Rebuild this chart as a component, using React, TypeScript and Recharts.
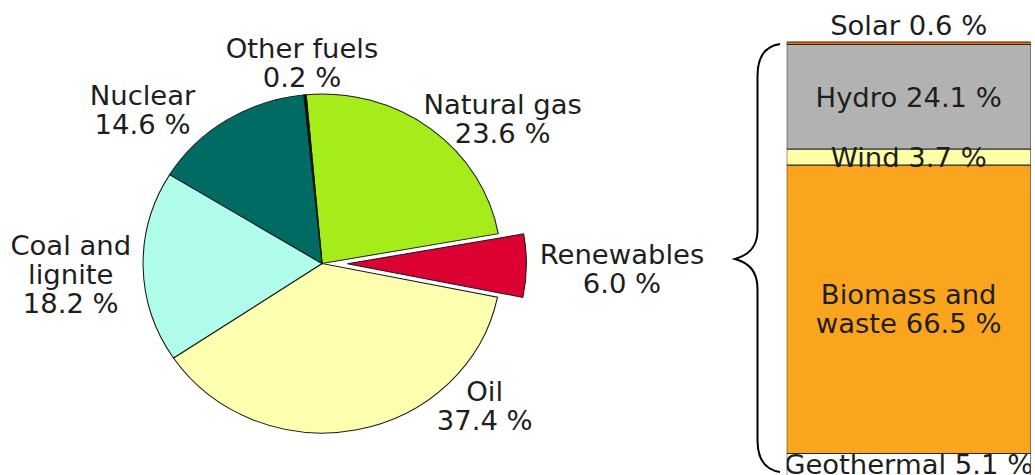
import React from 'react';
import { PieChart, Pie, Cell, BarChart, Bar, XAxis, YAxis, LabelList } from 'recharts';

// primary energy mix (pie), clockwise from the top
const fuels = ['Natural gas', 'Renewables', 'Oil', 'Coal and lignite', 'Nuclear', 'Other fuels'];
const fuelShares = [23.6, 6.0, 37.4, 18.2, 14.6, 0.2];
const fuelColors = ['#a6ec1a', '#dc0033', '#ffffb0', '#b0fdeb', '#006b63', '#000000'];

// renewables breakdown (stacked bar), bottom to top
const renewableParts = ['Geothermal', 'Biomass and waste', 'Wind', 'Hydro', 'Solar'];
const renewableShares = [5.1, 66.5, 3.7, 24.1, 0.6];
const renewableColors = ['#ffffff', '#fba51e', '#ffffa8', '#b2b2b2', '#ff6a00'];

const EXPLODED = 'Renewables';

const pieData = fuels.map((name, i) => ({ name, value: fuelShares[i] }));
const barRow: Record<string, string | number> = { name: 'Renewables' };
renewableParts.forEach((p, i) => { barRow[p] = renewableShares[i]; });
const barData = [barRow];

// layout (pre-stretch coordinates)
const STRETCH = 1.056;
const FONT = 26;
const LINE = 29;
const CX = 305;
const CY = 263.5;
const R = 169.5;
const START = 95.1;
const EXPLODE_BY = 24;

const pieLabelLines: Record<string, string[]> = {
  'Coal and lignite': ['Coal and', 'lignite'],
};
// label block anchor relative to the pie centre (first line centre)
const pieLabelPos: Record<string, [number, number]> = {
  'Natural gas': [171, -159],
  Renewables: [284, -9.5],
  Oil: [154, 127.5],
  'Coal and lignite': [-238, -18.5],
  Nuclear: [-170, -168],
  'Other fuels': [-19, -215.5],
};
const barLabelLines: Record<string, string[]> = {
  'Biomass and waste': ['Biomass and', 'waste'],
};

const fmt = (v: number) => `${v.toFixed(1)} %`;

// mid angle of the exploded slice, from the data
const explodedIdx = fuels.indexOf(EXPLODED);
const total = fuelShares.reduce((a, b) => a + b, 0);
const before = fuelShares.slice(0, explodedIdx).reduce((a, b) => a + b, 0);
const midDeg = START - ((before + fuelShares[explodedIdx] / 2) / total) * 360;
const exDx = EXPLODE_BY * Math.cos((midDeg * Math.PI) / 180);
const exDy = -EXPLODE_BY * Math.sin((midDeg * Math.PI) / 180);

const renderPieLabel = (props: any) => {
  const { cx, cy, name, value } = props;
  const pos = pieLabelPos[name];
  if (!pos) return null;
  const lines = [...(pieLabelLines[name] || [name]), fmt(value)];
  return (
    <text
      x={cx + pos[0]}
      y={cy + pos[1]}
      textAnchor="middle"
      dominantBaseline="central"
      fill="#1e1e1e"
      fontSize={FONT}
      fontFamily="'DejaVu Sans', Verdana, sans-serif"
    >
      {lines.map((l, i) => (
        <tspan key={i} x={cx + pos[0]} y={cy + pos[1] + i * LINE}>{l}</tspan>
      ))}
    </text>
  );
};

const makeBarLabel = (part: string, above: boolean) => (props: any) => {
  const vb = props.viewBox || props;
  const { x, y, width, height } = vb;
  const value = props.value;
  const words = barLabelLines[part] || [part];
  const lines = words.slice();
  lines[lines.length - 1] = `${lines[lines.length - 1]} ${fmt(Number(value))}`;
  const midX = x + width / 2;
  const midY = above ? y - 17 : y + height / 2 - ((lines.length - 1) * LINE) / 2;
  return (
    <text
      x={midX}
      y={midY}
      textAnchor="middle"
      dominantBaseline="central"
      fill="#1e1e1e"
      fontSize={FONT}
      fontFamily="'DejaVu Sans', Verdana, sans-serif"
    >
      {lines.map((l, i) => (
        <tspan key={i} x={midX} y={midY + i * LINE}>{l}</tspan>
      ))}
    </text>
  );
};

export default function App() {
  return (
    <div
      style={{
        position: 'fixed',
        left: 0,
        top: 0,
        width: 1035,
        height: 475,
        overflow: 'hidden',
        background: '#fff',
        fontFamily: "'DejaVu Sans', sans-serif",
      }}
    >
      <div
        style={{
          position: 'absolute',
          left: 0,
          top: 0,
          width: 990,
          height: 480,
          transform: `scaleX(${STRETCH})`,
          transformOrigin: '0 0',
        }}
      >
        <div style={{ position: 'absolute', left: 0, top: 0 }}>
          <PieChart width={720} height={475} margin={{ top: 0, right: 0, bottom: 0, left: 0 }}>
            <Pie
              data={pieData}
              dataKey="value"
              nameKey="name"
              cx={CX}
              cy={CY}
              outerRadius={R}
              startAngle={START}
              endAngle={START - 360}
              isAnimationActive={false}
              label={renderPieLabel}
              labelLine={false}
            >
              {pieData.map((d, i) => (
                <Cell
                  key={d.name}
                  fill={d.name === EXPLODED ? 'none' : fuelColors[i]}
                  stroke={d.name === EXPLODED ? 'none' : '#1a1a1a'}
                  strokeWidth={1}
                />
              ))}
            </Pie>
            <Pie
              data={pieData}
              dataKey="value"
              nameKey="name"
              cx={CX + exDx}
              cy={CY + exDy}
              outerRadius={R}
              startAngle={START}
              endAngle={START - 360}
              isAnimationActive={false}
            >
              {pieData.map((d, i) => (
                <Cell
                  key={d.name}
                  fill={d.name === EXPLODED ? fuelColors[i] : 'none'}
                  stroke={d.name === EXPLODED ? '#1a1a1a' : 'none'}
                  strokeWidth={1}
                />
              ))}
            </Pie>
          </PieChart>
        </div>
        <div style={{ position: 'absolute', left: 745.3, top: 0 }}>
          <BarChart
            width={231}
            height={476}
            data={barData}
            margin={{ top: 42, right: 0, bottom: 0.5, left: 0 }}
            barCategoryGap={0}
            barGap={0}
          >
            <XAxis dataKey="name" hide />
            <YAxis domain={[0, 100]} hide />
            {renewableParts.map((p, i) => (
              <Bar
                key={p}
                dataKey={p}
                stackId="r"
                fill={renewableColors[i]}
                stroke="#262626"
                strokeWidth={1}
                isAnimationActive={false}
              >
                <LabelList dataKey={p} content={makeBarLabel(p, p === 'Solar')} />
              </Bar>
            ))}
          </BarChart>
        </div>
      </div>
      <svg
        width={1035}
        height={475}
        style={{ position: 'absolute', left: 0, top: 0, pointerEvents: 'none' }}
      >
        <path
          d="M780,44 C766,46 757.5,55 757.5,76 L757.5,230 C757.5,247 749,255 735,259 C749,263 757.5,271 757.5,289 L757.5,440 C757.5,460 766,470 780,472"
          fill="none"
          stroke="#000"
          strokeWidth={2}
        />
      </svg>
    </div>
  );
}
